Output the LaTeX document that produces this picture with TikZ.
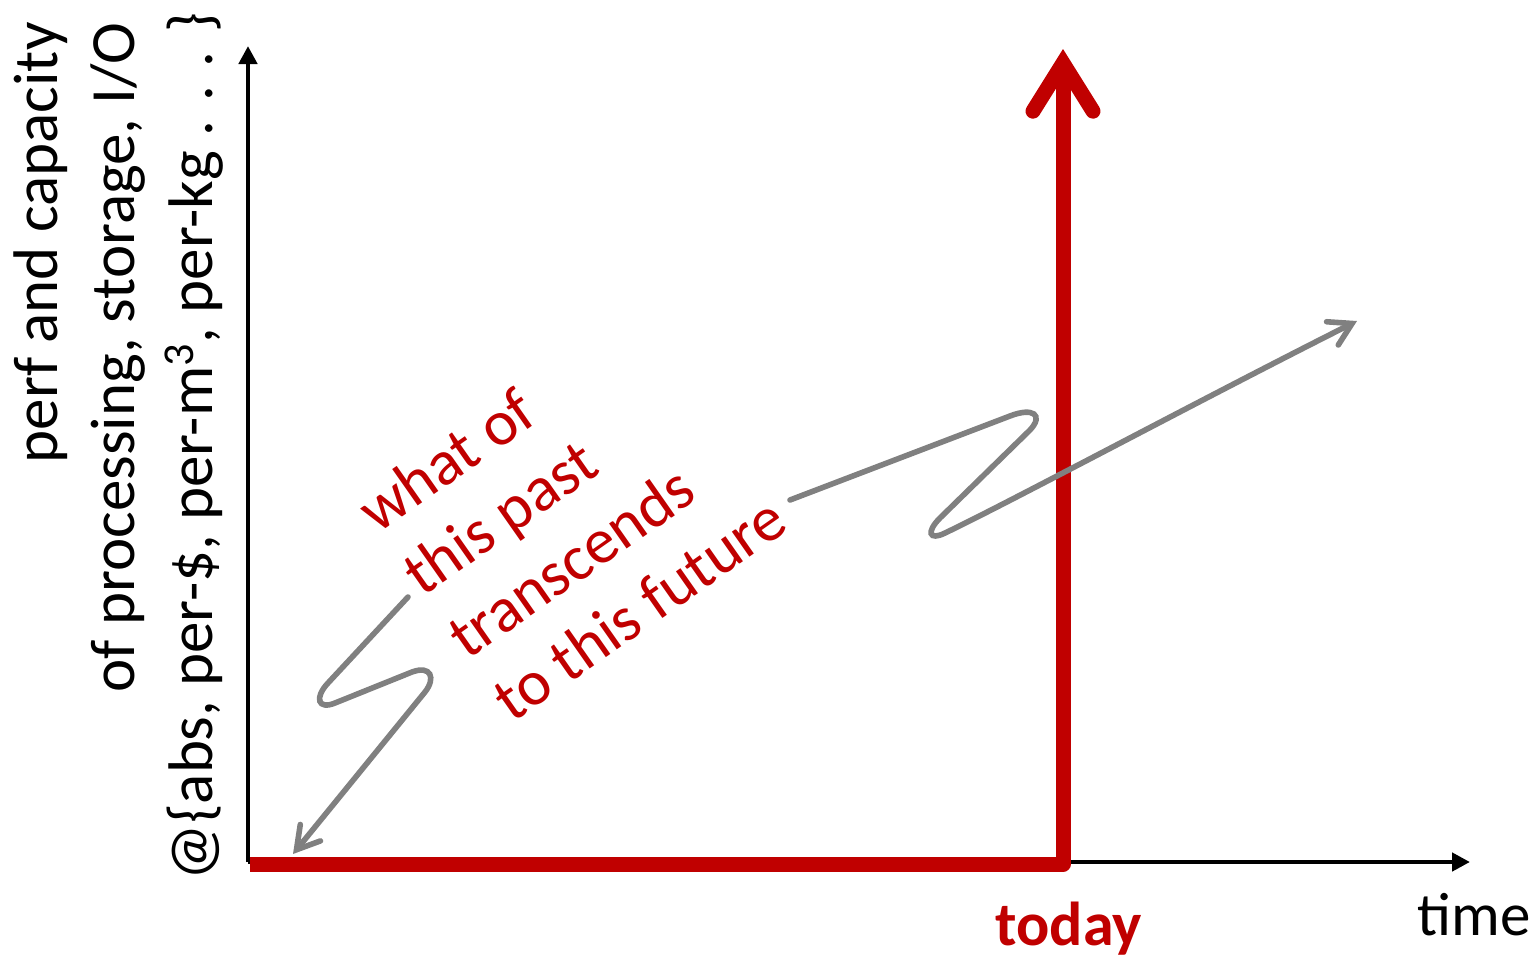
\documentclass[tikz,border=0pt]{standalone}
\usepackage{fontspec}
\setmainfont{Carlito}
\usetikzlibrary{arrows.meta}
\definecolor{darkred}{HTML}{C00000}
\definecolor{grayline}{HTML}{808080}
\begin{document}
\begin{tikzpicture}[x=0.5pt,y=-0.5pt,
  axis/.style={line width=2.25pt, black, -{Triangle[length=9pt,width=9pt]}},
  redline/.style={line width=7.5pt, darkred, line join=round,
    -{Straight Barb[length=24pt,width=30pt,line cap=round,line join=miter]}},
  grayarrow/.style={line width=2.8pt, grayline, line cap=round,
    -{Straight Barb[length=11pt,width=13pt,line cap=round]}},
  ylab/.style={rotate=90, anchor=base east, inner sep=0pt, font=\fontsize{31.5pt}{38pt}\selectfont},
  redtxt/.style={rotate=35, anchor=base west, inner sep=0pt, text=darkred, font=\fontsize{32pt}{38pt}\selectfont},
  plain/.style={anchor=base west, inner sep=0pt},
]
\useasboundingbox (0,0) rectangle (1538,955);
% coordinates
\coordinate (O) at (248,862);
\coordinate (ytop) at (248,46);
\coordinate (xend) at (1470,862);
\coordinate (r0) at (250,864);
\coordinate (rc) at (1063,864);
\coordinate (rtop) at (1063,49);
\coordinate (g1s) at (408,597);
\coordinate (g1e) at (293,854);
\coordinate (g2s) at (790,500);
\coordinate (g2e) at (1357,321);
% axes
\draw[axis] (O) -- (ytop);
\draw[axis] (O) -- (xend);
% red timeline
\draw[redline] (r0) -- (rc) -- (rtop);
% gray squiggle arrows
\draw[grayarrow] (g1s) -- (328,683) .. controls (314,698) and (318,710) .. (335,703)
  -- (412,672) .. controls (431,665) and (436,678) .. (425,692) -- (g1e);
\draw[grayarrow] (g2s) -- (1010,416) .. controls (1033,407) and (1044,415) .. (1030,430)
  -- (940,518) .. controls (926,532) and (929,541) .. (945,533)
  .. controls (1010,502) and (1200,400) .. (g2e);
% y-axis label
\node[ylab] (yl1) at (57,22) {perf and capacity};
\node[ylab] (yl2) at (134,22) {of processing, storage, I/O};
\node[ylab] (yl3) at (212,12) {@\{abs, per-\$, per-m\textsuperscript{3}, per-kg . . . \}};
% red diagonal text
\node[redtxt] (t1) at (377,535) {what of};
\node[redtxt] (t2) at (422,598) {this past};
\node[redtxt] (t3) at (467,661) {transcends};
\node[redtxt] (t4) at (512,724) {to this future};
% axis labels
\node[plain, text=darkred, font=\fontsize{31pt}{37pt}\selectfont\bfseries] (today) at (995,945) {today};
\node[plain, font=\fontsize{30.5pt}{36pt}\selectfont] (time) at (1417,935) {time};
\end{tikzpicture}
\end{document}
